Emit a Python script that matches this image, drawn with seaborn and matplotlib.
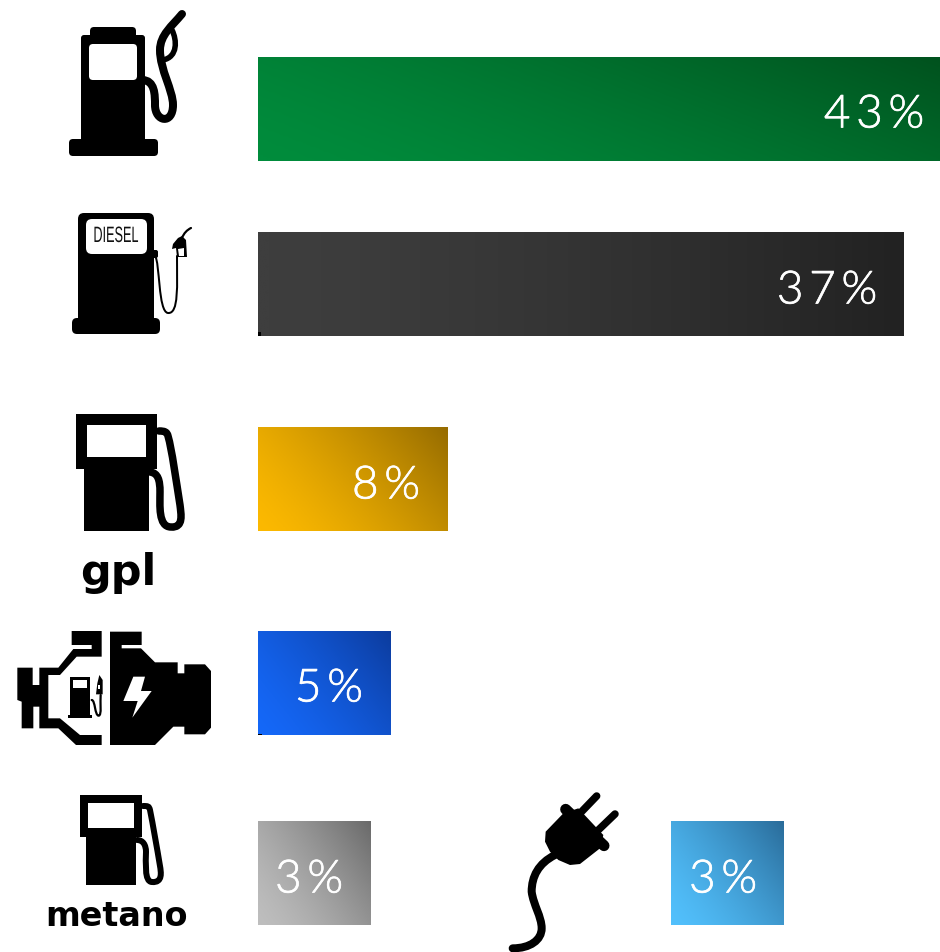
import numpy as np
import pandas as pd
import matplotlib
matplotlib.use("Agg")
import matplotlib.pyplot as plt
import matplotlib.patheffects as pe
from matplotlib.colors import LinearSegmentedColormap
from matplotlib.patches import FancyBboxPatch, Polygon, PathPatch, Rectangle
from matplotlib.path import Path
from matplotlib.transforms import Affine2D
import seaborn as sns

# Data (bars are not proportional to the percentages)
fuels = ["benzina", "diesel", "gpl", "ibrido", "metano"]
shares = ["43%", "37%", "8%", "5%", "3%"]
bar_lengths = [682, 646, 190, 133, 113]
row_centres = [109, 284, 479, 683, 873]

electric_fuel = ["elettrico"]
electric_share = ["3%"]
electric_length = [113]
electric_row = [873]

# Gradient colours per bar: light corner, dark corner, weight of x in the blend
light_colours = ["#008C3C", "#3E3E3E", "#FCB900", "#1568F8", "#BEBEBE"]
dark_colours = ["#00521E", "#222222", "#966C00", "#0C3C9E", "#6A6A6A"]
x_weights = [0.72, 1.0, 0.68, 0.62, 0.62]
electric_light = ["#52C0FC"]
electric_dark = ["#2A6C9A"]

sns.set_theme(style="white")
plt.rcParams['font.family'] = ['Lato', 'DejaVu Sans']

W, H = 940, 952
fig = plt.figure(figsize=(W / 100, H / 100), dpi=100)
fig.patch.set_facecolor("white")

# Bars start at x=258, the plug bar has its own axes starting at x=671
ax = fig.add_axes([258 / W, 0, (W - 258) / W, 1])
ax2 = fig.add_axes([671 / W, 0, (W - 671) / W, 1])
top = fig.add_axes([0, 0, 1, 1])

df = pd.DataFrame({"fuel": fuels, "length": bar_lengths, "row": row_centres})
df2 = pd.DataFrame({"fuel": electric_fuel, "length": electric_length, "row": electric_row})

sns.barplot(data=df, x="length", y="row", hue="fuel", palette=light_colours, orient="y",
            native_scale=True, width=104 / 175, saturation=1, legend=False, dodge=False, ax=ax)
sns.barplot(data=df2, x="length", y="row", hue="fuel", palette=electric_light, orient="y",
            native_scale=True, width=104, saturation=1, legend=False, dodge=False, ax=ax2)


def paint_gradient(axis, patch, c0, c1, wx):
    # lay a diagonal gradient over the seaborn bar
    x0, y0 = patch.get_x(), patch.get_y()
    w, h = patch.get_width(), patch.get_height()
    y0, y1 = min(y0, y0 + h), max(y0, y0 + h)
    xx, yy = np.meshgrid(np.linspace(0, 1, 200), np.linspace(0, 1, 60))
    t = (wx * xx + (1 - wx) * (1 - yy)) ** 1.4
    cmap = LinearSegmentedColormap.from_list("g", [c0, c1])
    im = axis.imshow(t, cmap=cmap, vmin=0, vmax=1, extent=(x0, x0 + w, y1, y0),
                     origin="upper", aspect="auto", interpolation="bilinear", zorder=3)
    im.set_clip_path(patch)


bars = sorted([p for p in ax.patches if p.get_width() > 0], key=lambda p: p.get_y())
for p, c0, c1, wx in zip(bars, light_colours, dark_colours, x_weights):
    paint_gradient(ax, p, c0, c1, wx)
for p in ax2.patches:
    if p.get_width() > 0:
        paint_gradient(ax2, p, electric_light[0], electric_dark[0], 0.6)

ax.set_xlim(0, W - 258)
ax2.set_xlim(0, W - 671)
for a in (ax, ax2, top):
    a.set_ylim(H, 0)
    a.axis("off")
top.set_xlim(0, W)
top.patch.set_alpha(0)
ax2.patch.set_alpha(0)

# Percent labels
label_x = [874, 827, 386, 329, 309]
label_y = [111, 287, 482, 685, 876]
label_font = dict(color="white", fontsize=33, fontweight=300, ha="center", va="center_baseline",
                  family=['Lato', 'DejaVu Sans'],
                  path_effects=[pe.withStroke(linewidth=0.5, foreground="white")])


def spaced(s):
    return "\u2009".join(s)


for s, x, y in zip(shares, label_x, label_y):
    top.text(x, y, spaced(s), **label_font)
top.text(723, 876, spaced(electric_share[0]), **label_font)

# tiny dark specks at the foot of two bars
top.add_patch(Rectangle((258, 332), 3, 4, color="black", lw=0))
top.add_patch(Rectangle((258, 734), 4, 1.2, color="black", lw=0))


# Icon helpers, pixel coordinates
def rrect(x0, y0, x1, y1, r, color="black"):
    top.add_patch(FancyBboxPatch((x0 + r, y0 + r), x1 - x0 - 2 * r, y1 - y0 - 2 * r,
                                 boxstyle=f"round,pad={r},rounding_size={r}",
                                 fc=color, ec="none", lw=0))


def poly(pts, color="black"):
    top.add_patch(Polygon(pts, closed=True, fc=color, ec="none", lw=0))


def curve(start, segs, lw):
    verts = [start]
    codes = [Path.MOVETO]
    for s in segs:
        verts.extend(s)
        codes.extend([Path.CURVE4] * 3 if len(s) == 3 else [Path.LINETO])
    top.add_patch(PathPatch(Path(verts, codes), fc="none", ec="black", lw=lw * 0.72,
                            capstyle="round", joinstyle="round"))


class NarrowText(pe.AbstractPathEffect):
    # squeeze a text horizontally about its centre, no narrow font is installed
    def __init__(self, cx, factor):
        super().__init__()
        self.cx, self.factor = cx, factor

    def draw_path(self, renderer, gc, tpath, affine, rgbFace=None):
        squeeze = Affine2D().translate(-self.cx, 0).scale(self.factor, 1).translate(self.cx, 0)
        renderer.draw_path(gc, tpath, affine + squeeze, rgbFace)


# Petrol pump
rrect(90, 27, 136, 42, 4)
rrect(81, 35, 145, 145, 3)
rrect(69, 139, 158, 156, 4)
rrect(89, 44, 137, 80, 4, "white")
curve((142, 80), [[(155, 80), (155, 95), (155, 105)], [(155, 122), (173, 125), (173, 105)],
                  [(173, 90), (160, 70), (160, 50)], [(160, 35), (172, 26), (182, 14)]], 8)
curve((172, 30), [[(177, 40), (178, 57), (163, 60)]], 5.5)

# Diesel pump
rrect(78, 213, 154, 325, 6)
rrect(72, 318, 160, 334, 5)
rrect(86, 219, 147, 254, 6, "white")
top.text(116, 236.5, "DIESEL", fontsize=16, color="#111111", ha="center", va="center",
         family=['Liberation Sans'], path_effects=[NarrowText(116, 0.57)])
curve((155, 256), [[(160, 262), (158, 312), (168, 313)], [(179, 314), (177, 285), (177, 256)]], 2)
poly([(173, 244), (178, 238), (182, 236), (186, 240), (187, 257), (177, 257), (176, 248), (172, 249)])
poly([(178, 249), (184, 248), (184, 256), (179, 256)], "white")
curve((182, 238), [[(184, 233), (187, 230), (191, 228)]], 2.2)
rrect(152, 250, 158, 258, 2)

# LPG pump
poly([(76, 414), (157, 414), (157, 469), (149, 469), (149, 531), (84, 531), (84, 469), (76, 469)])
poly([(87, 425), (146, 425), (146, 457), (87, 457)], "white")
curve((150, 472), [[(158, 473), (160, 480), (160, 492)], [(160, 505), (158, 527), (171, 527)],
                   [(184, 528), (181, 514), (180, 505)], [(176, 480), (172, 450), (168, 436)],
                   [(167, 432), (165, 431), (159, 431)]], 7.5)
top.text(118, 585, "gpl", fontsize=31, fontweight="bold", color="black", ha="center", va="baseline",
         family=['DejaVu Sans'])


# Hybrid engine (outlines given in 3x crop coordinates)
def eng_l(pts):
    return [(10 + x / 3, 625 + y / 3) for x, y in pts]


def eng_r(pts):
    return [(105 + x / 3, 625 + y / 3) for x, y in pts]


poly(eng_r([(15, 20), (110, 20), (110, 60), (50, 60), (50, 70), (108, 70), (150, 112), (218, 112),
            (218, 145), (238, 145), (238, 118), (300, 118), (318, 138), (318, 308), (300, 328),
            (238, 328), (238, 305), (205, 305), (150, 360), (15, 360)]))
poly(eng_r([(85, 155), (120, 155), (108, 198), (140, 198), (82, 278), (98, 228), (55, 228)]), "white")
poly(eng_l([(185, 18), (275, 18), (275, 95), (200, 95), (150, 150), (115, 150), (115, 280), (150, 280),
            (210, 330), (275, 330), (275, 360), (198, 360), (145, 310), (88, 310), (88, 245), (70, 245),
            (70, 310), (35, 310), (35, 230), (22, 225), (22, 128), (68, 128), (68, 180), (88, 180),
            (88, 128), (145, 128), (190, 72), (245, 72), (245, 60), (185, 60)]))
poly(eng_l([(180, 155), (240, 155), (240, 270), (245, 270), (245, 280), (175, 280), (175, 270), (180, 270)]))
poly(eng_l([(190, 165), (232, 165), (232, 190), (190, 190)]), "white")
poly(eng_l([(262, 175), (268, 150), (278, 165), (278, 208), (258, 208)]))
poly(eng_l([(264, 180), (270, 180), (270, 192), (264, 192)]), "white")
curve(eng_l([(245, 225)])[0], [eng_l([(256, 225), (254, 272), (266, 272)]), eng_l([(276, 272), (270, 230), (272, 210)])], 2.2)

# Methane pump
poly([(80, 795), (142, 795), (142, 837), (136, 837), (136, 885), (86, 885), (86, 837), (80, 837)])
poly([(88, 803), (134, 803), (134, 828), (88, 828)], "white")
curve((137, 840), [[(143, 840), (146, 845), (146, 852)], [(146, 862), (144, 882), (152, 882)],
                   [(163, 883), (161, 872), (160, 866)], [(157, 848), (153, 825), (150, 810)],
                   [(149, 806), (148, 806), (143, 806)]], 6)
top.text(116, 926, "metano", fontsize=24, fontweight="bold", color="black", ha="center", va="baseline",
         family=['DejaVu Sans'])


# Plug (3x crop coordinates)
def plg(pts):
    return [(500 + x / 3, 780 + y / 3) for x, y in pts]


poly(plg([(137, 155), (190, 100), (235, 85), (310, 165), (300, 205), (240, 252), (210, 255),
          (175, 240), (150, 215), (135, 185)]))
for a_, b_ in [((240, 100), (290, 48)), ((295, 150), (345, 102))]:
    pa, pb = plg([a_, b_])
    curve(pa, [[pb]], 7.5)
pa, pb = plg([(197, 88), (312, 197)])
curve(pa, [[pb]], 11)
cord = plg([(165, 225), (115, 250), (95, 290), (95, 335), (100, 375), (125, 410), (125, 445),
            (125, 480), (90, 505), (38, 505)])
curve(cord[0], [cord[1:4], cord[4:7], cord[7:10]], 8)

top.set_xlim(0, W)
top.set_ylim(H, 0)

plt.savefig("out.png", dpi=100)
plt.close()
